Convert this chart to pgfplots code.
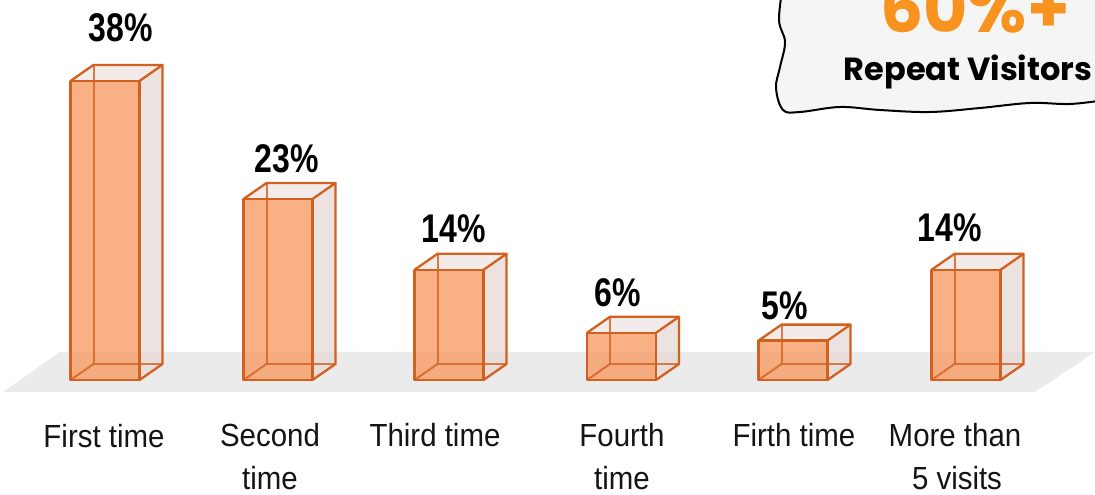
\documentclass[border=0pt]{standalone}
\usepackage{fontspec}
\usepackage{pgfplots}
\usepackage{pgfplotstable}
\pgfplotsset{compat=1.18}
\setmainfont{Liberation Sans}
\newfontfamily\labf{Liberation Sans}[FakeStretch=0.92]
\newfontfamily\pctf{Liberation Sans}[FakeStretch=0.8]
\newfontfamily\popf{Poppins}
\definecolor{edge}{HTML}{D2601E}
\definecolor{frontc}{HTML}{F89C66}
\definecolor{sidec}{HTML}{E6D9D5}
\definecolor{topc}{HTML}{F0E8E5}
\definecolor{floorc}{HTML}{EBEBEB}
\definecolor{boxc}{HTML}{F5F5F5}
\definecolor{orng}{HTML}{F7931E}

\pgfplotstableread{
x v
105 38
278 23
449 14
621.5 6
793 5
966 14
}\bars

\pgfdeclareplotmark{nothing}{}

\begin{document}
\begin{tikzpicture}[x=1pt,y=1pt]
% floor
\fill[floorc] (60,143) -- (1095,143) -- (1035,103) -- (3,103) -- cycle;
\begin{axis}[at={(0pt,0pt)}, anchor=south west,
  x=1pt, y=7.87pt, xmin=0, xmax=1095, ymin=-14.6125, ymax=48.2846,
  hide axis, clip=false]
\addplot[scatter, only marks, mark=nothing,
  visualization depends on={\thisrow{v} \as \val},
  scatter/@pre marker code/.code={%
    \pgfmathsetmacro\yb{-\val*7.87}%
    \pgfmathsetmacro\yc{16-\val*7.87}%
    % side face
    \fill[sidec, fill opacity=0.75] (34.5pt,0pt) -- (57.5pt,16pt) -- (57.5pt,\yc pt) -- (34.5pt,\yb pt) -- cycle;
    % top face
    \fill[topc, fill opacity=0.85] (-34.5pt,0pt) -- (-11.5pt,16pt) -- (57.5pt,16pt) -- (34.5pt,0pt) -- cycle;
    % front face
    \fill[frontc, fill opacity=0.8] (-34.5pt,\yb pt) rectangle (34.5pt,0pt);
    % hidden edges seen through
    \draw[edge, draw opacity=0.8, line width=2pt] (-11.5pt,16pt) -- (-11.5pt,\yc pt) -- (57.5pt,\yc pt);
    \draw[edge, draw opacity=0.8, line width=2pt] (-34.5pt,\yb pt) -- (-11.5pt,\yc pt);
    % visible edges
    \draw[edge, line width=2.3pt, line join=round] (-34.5pt,\yb pt) rectangle (34.5pt,0pt);
    \draw[edge, line width=2.3pt, line join=round] (-34.5pt,0pt) -- (-11.5pt,16pt) -- (57.5pt,16pt) -- (34.5pt,0pt);
    \draw[edge, line width=2.3pt, line join=round] (57.5pt,16pt) -- (57.5pt,\yc pt) -- (34.5pt,\yb pt);
  },
  scatter/@post marker code/.code={}
] table[x=x, y=v] {\bars};
\end{axis}

% percent labels
\tikzset{pct/.style={font=\pctf\bfseries\fontsize{40}{48}\selectfont, anchor=base, inner sep=0pt}}
\node[pct] at (120.5,453) {38\%};
\node[pct] at (287,322) {23\%};
\node[pct] at (453.5,252) {14\%};
\node[pct] at (618,188) {6\%};
\node[pct] at (784.5,175) {5\%};
\node[pct] at (949.5,253) {14\%};

% category labels
\tikzset{cat/.style={font=\labf\fontsize{32}{38}\selectfont, anchor=base, inner sep=0pt, text=black!92}}
\node[cat] at (104,47) {First time};
\node[cat] at (270,48) {Second};
\node[cat] at (270,5) {time};
\node[cat] at (435,48) {Third time};
\node[cat] at (622,48) {Fourth};
\node[cat] at (622,5) {time};
\node[cat] at (794,48) {Firth time};
\node[cat] at (955,48) {More than};
\node[cat] at (957,5) {5 visits};

% callout
\filldraw[fill=boxc, draw=black, line width=2pt, line join=round]
  plot[smooth, tension=0.6] coordinates {(783,510) (779,475) (785,453) (780,428) (776,407) (783,385)
  (800,383) (840,388) (880,385) (930,383) (980,387) (1030,392) (1070,391) (1105,395)}
  -- (1110,510) -- cycle;
\node[font=\popf\bfseries\fontsize{68}{80}\selectfont, text=orng, anchor=base, inner sep=0pt] at (975,462) {60\%+};
\node[font=\popf\bfseries\fontsize{32}{36}\selectfont, anchor=base, inner sep=0pt] at (968,414) {Repeat Visitors};

\pgfresetboundingbox
\useasboundingbox (0,0) rectangle (1095,495);
\end{tikzpicture}
\end{document}
